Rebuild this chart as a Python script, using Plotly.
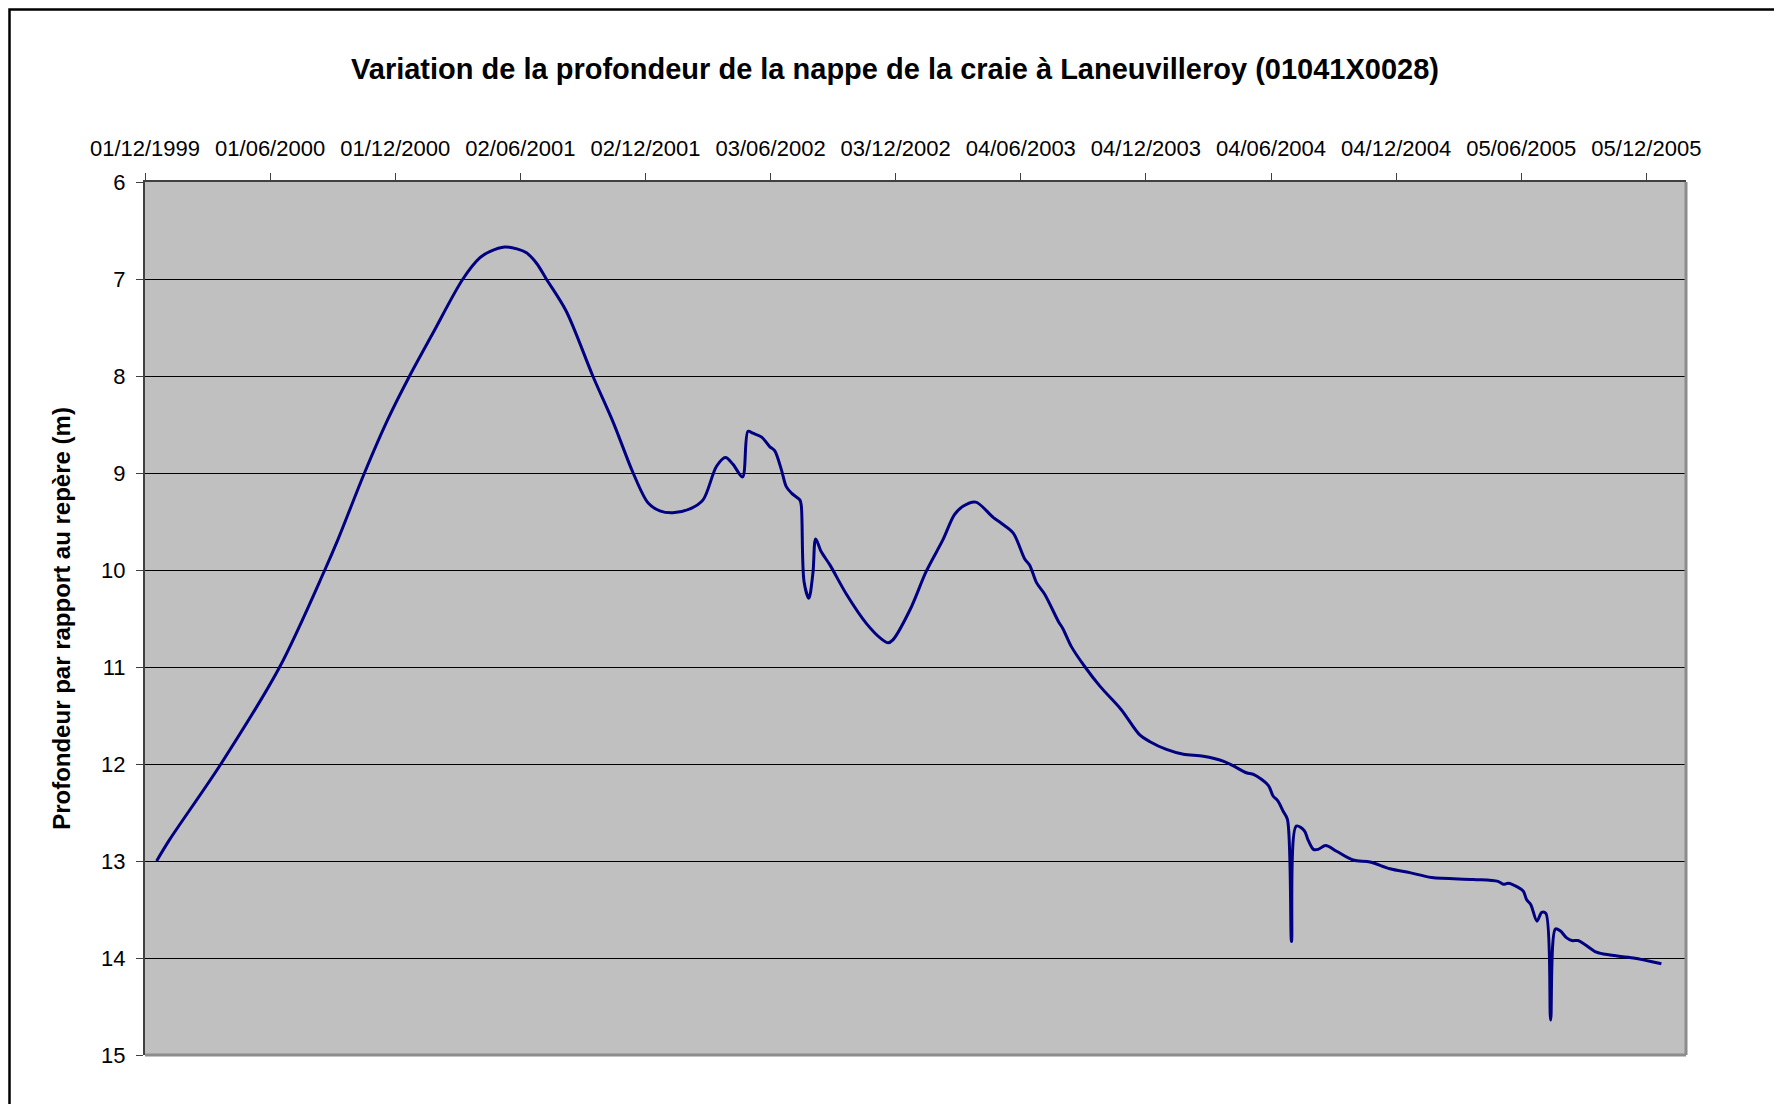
import plotly.graph_objects as go

# relevés piézométriques
dates = [
    "1999-12-18", "2000-01-06", "2000-03-21", "2000-06-15", "2000-08-20", "2000-09-08",
    "2000-10-17", "2000-11-20", "2000-12-22", "2001-01-25", "2001-03-10", "2001-04-04",
    "2001-04-19", "2001-05-10", "2001-05-28", "2001-06-11", "2001-06-26", "2001-07-10",
    "2001-08-08", "2001-09-16", "2001-10-16",
    "2001-11-14", "2001-12-06", "2001-12-23", "2002-01-11", "2002-02-05", "2002-02-24",
    "2002-03-16", "2002-03-29", "2002-04-09", "2002-04-23", "2002-05-01", "2002-05-08",
    "2002-05-21", "2002-06-02", "2002-06-09", "2002-06-19", "2002-06-26", "2002-07-04",
    "2002-07-16", "2002-07-18", "2002-07-22", "2002-07-29", "2002-08-04", "2002-08-08",
    "2002-08-16", "2002-08-29", "2002-09-22", "2002-10-21", "2002-11-12", "2002-11-22",
    "2002-11-29", "2002-12-24", "2003-01-17", "2003-02-10", "2003-02-27", "2003-03-12",
    "2003-03-30", "2003-04-25", "2003-05-07", "2003-05-24", "2003-06-10", "2003-06-17",
    "2003-06-27", "2003-07-09", "2003-07-29", "2003-08-05", "2003-08-17", "2003-09-06",
    "2003-09-28", "2003-10-29", "2003-11-25", "2003-12-10", "2004-01-03", "2004-01-28",
    "2004-02-26", "2004-03-26", "2004-04-10", "2004-04-29", "2004-05-10", "2004-05-31",
    "2004-06-07", "2004-06-14", "2004-06-22", "2004-06-28", "2004-07-04", "2004-07-11",
    "2004-07-23", "2004-07-28", "2004-08-05", "2004-08-12", "2004-08-23", "2004-09-08",
    "2004-10-02", "2004-10-27", "2004-11-25", "2004-12-24", "2005-01-25", "2005-03-27",
    "2005-05-02", "2005-05-10", "2005-05-17", "2005-05-31", "2005-06-08", "2005-06-13",
    "2005-06-19", "2005-06-28", "2005-07-05", "2005-07-11", "2005-07-18", "2005-07-25",
    "2005-08-01", "2005-08-10", "2005-08-18", "2005-08-27", "2005-09-06", "2005-09-23",
    "2005-10-13", "2005-11-16", "2005-12-27",
]
profondeur = [
    13.00, 12.78, 12.00, 11.00, 10.00, 9.69,
    9.00, 8.45, 8.00, 7.56, 7.00, 6.78,
    6.715, 6.67, 6.69, 6.73, 6.84, 7.00,
    7.33, 8.00, 8.48,
    9.00, 9.31, 9.39, 9.41, 9.37, 9.28,
    8.93, 8.84, 8.91, 9.04, 8.57, 8.59,
    8.63, 8.73, 8.77, 8.97, 9.14, 9.21,
    9.28, 9.34, 10.12, 10.29, 10.03, 9.68,
    9.81, 9.95, 10.25, 10.55, 10.71, 10.75,
    10.72, 10.41, 10.01, 9.69, 9.43, 9.34,
    9.30, 9.46, 9.52, 9.62, 9.89, 9.95,
    10.13, 10.25, 10.53, 10.61, 10.79, 11.00,
    11.20, 11.44, 11.70, 11.77, 11.85, 11.90,
    11.92, 11.97, 12.02, 12.09, 12.11, 12.22,
    12.33, 12.38, 12.49, 12.57, 13.83, 12.64,
    12.69, 12.78, 12.88, 12.88, 12.84, 12.90,
    12.99, 13.01, 13.08, 13.12, 13.17, 13.19,
    13.21, 13.24, 13.23, 13.27, 13.31, 13.40,
    13.45, 13.62, 13.53, 13.54, 14.64, 13.70,
    13.72, 13.79, 13.82, 13.82, 13.86, 13.94,
    13.97, 14.00, 14.06,
]

x_range = ["1999-12-01", "2006-02-01"]
y_range = [15, 6]
titre = "Variation de la profondeur de la nappe de la craie à Laneuvilleroy (01041X0028)"
titre_y = "Profondeur par rapport au repère (m)"

FONT = "Liberation Sans, Arial, sans-serif"

# taille de la figure (la page ajoute une marge de 8 px) et zone de tracé en pixels
FW, FH = 1774, 1096
L, R, T, B = 137, 96, 174, 49
W = FW - L - R
H = FH - T - B

fig = go.Figure(go.Scatter(
    x=dates, y=profondeur, mode="lines",
    line=dict(color="#000080", width=3, shape="spline", smoothing=0.9),
    hoverinfo="x+y",
))

fig.update_layout(
    width=FW, height=FH,
    margin=dict(l=L, r=R, t=T, b=B, autoexpand=False),
    paper_bgcolor="white", plot_bgcolor="#C0C0C0",
    showlegend=False,
    font=dict(family=FONT, color="black", size=20),
    title=dict(text="<b>" + titre + "</b>", x=0.5, xref="container", xanchor="center",
               y=1 - 61 / FH, yref="container", yanchor="middle",
               font=dict(size=29, family=FONT)),
)

fig.update_xaxes(
    type="date", side="top", range=x_range, automargin=False,
    tick0="1999-12-01", dtick=183 * 86400000, tickformat="%d/%m/%Y",
    ticks="outside", ticklen=7, tickcolor="#404040", tickwidth=1,
    ticklabelstandoff=8,
    showgrid=False, zeroline=False,
    showline=True, linecolor="#404040", linewidth=2,
    tickfont=dict(size=22),
)
fig.update_yaxes(
    range=y_range, tick0=6, dtick=1, automargin=False,
    ticks="outside", ticklen=7, tickcolor="#404040", tickwidth=1,
    ticklabelstandoff=6,
    showgrid=True, gridcolor="black", gridwidth=1, zeroline=False,
    showline=True, linecolor="#404040", linewidth=2,
    tickfont=dict(size=22),
    title=dict(text="<b>" + titre_y + "</b>", font=dict(size=24), standoff=24),
)

# bords droit et bas du cadre de traçage (gris)
fig.add_shape(type="line", xref="paper", yref="paper", x0=1, x1=1, y0=0, y1=1,
              line=dict(color="#8C8C8C", width=3))
fig.add_shape(type="line", xref="paper", yref="paper", x0=0, x1=1, y0=0, y1=0,
              line=dict(color="#8C8C8C", width=3))
# cadre extérieur noir du graphique
fig.add_shape(type="rect", xref="paper", yref="paper",
              x0=(1.5 - L) / W, x1=(FW - 3 - L) / W,
              y0=(FH - B - FH - 10) / H, y1=(FH - B - 1.5) / H,
              line=dict(color="black", width=2.5), fillcolor="rgba(0,0,0,0)", layer="below")

fig.write_html("out.html")
